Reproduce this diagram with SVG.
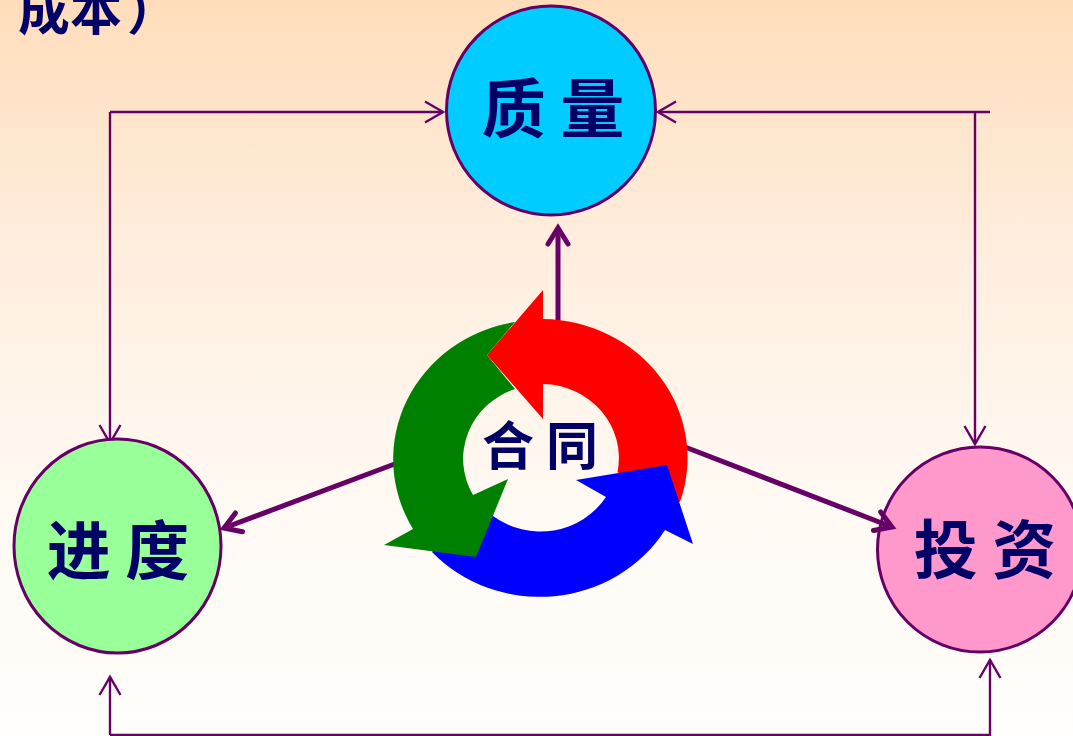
<svg xmlns="http://www.w3.org/2000/svg" width="1073" height="736" viewBox="0 0 1073 736">
<style>
text{font-family:"Noto Sans CJK SC","Noto Sans CJK JP",sans-serif;font-weight:700;fill:#000066}
.big{font-size:64px;text-anchor:middle}
.node{stroke:#660066;stroke-width:3}
.thin{fill:none;stroke:#660066;stroke-width:2.400}
.thick{fill:none;stroke:#660066;stroke-width:5}
</style>
<defs>
<linearGradient id="bg" x1="0" y1="0" x2="0" y2="1">
<stop offset="0" stop-color="#FFDDBB"/>
<stop offset="0.35" stop-color="#FFEEDF"/>
<stop offset="0.7" stop-color="#FFFAF4"/>
<stop offset="1" stop-color="#FFFEFB"/>
</linearGradient>
<marker id="a1" markerUnits="userSpaceOnUse" markerWidth="26" markerHeight="26" refX="21" refY="13" orient="auto"><path d="M3 2.500L21 13L3 23.500" fill="none" stroke="#660066" stroke-width="2.400"/></marker>
<marker id="a2" markerUnits="userSpaceOnUse" markerWidth="30" markerHeight="30" refX="24" refY="15" orient="auto"><path d="M8 5L24 15L8 25" fill="none" stroke="#660066" stroke-width="5" stroke-linecap="round"/></marker>
</defs>
<rect width="1073" height="736" fill="url(#bg)"/>
<text x="18" y="30" font-size="52">成本<tspan dx="5">）</tspan></text>
<g id="connectors">
<path class="thin" d="M110 112H443" marker-end="url(#a1)"/>
<path class="thin" d="M110 112V443" marker-end="url(#a1)"/>
<path class="thin" d="M990 112H658" marker-end="url(#a1)"/>
<path class="thin" d="M975 112V444" marker-end="url(#a1)"/>
<path class="thin" d="M110 735V677" marker-end="url(#a1)"/>
<path class="thin" d="M110 735H990V660" marker-end="url(#a1)"/>
</g>
<g id="node-quality"><circle class="node" cx="551" cy="110.500" r="104.500" fill="#00CCFF"/><text class="big" x="553" y="132">质 量</text></g>
<g id="node-schedule"><ellipse class="node" cx="117.500" cy="546" rx="103.500" ry="107" fill="#99FF99"/><text class="big" x="118" y="574">进 度</text></g>
<g id="node-investment"><circle class="node" cx="980" cy="549.500" r="102.500" fill="#FF99CC"/><text class="big" x="985" y="573">投 资</text></g>
<g id="thick-connectors">
<path class="thick" d="M558 322V228" marker-end="url(#a2)"/>
<path class="thick" d="M400 462L224 528" marker-end="url(#a2)"/>
<path class="thick" d="M685 447L892 527" marker-end="url(#a2)"/>
</g>
<g id="node-contract">
<path fill="#FF0000" d="M487 355L543 290V319A146.500 139 0 0 1 680 502L640 490L617.500 472A77.500 74 0 0 0 543 384V419Z"/>
<path fill="#0000FF" d="M576 480L667 465L693 544L665 530A146.500 139 0 0 1 432 552L480 500L493 516A77.500 74 0 0 0 606 497Z"/>
<path fill="#008000" d="M384 545L476 557L508 479L473 495A77.500 74 0 0 1 515 389L487 355L515 322A146 139 0 0 0 413 529Z"/>
<text x="540" y="465" font-size="52" text-anchor="middle">合 同</text>
</g>
</svg>
